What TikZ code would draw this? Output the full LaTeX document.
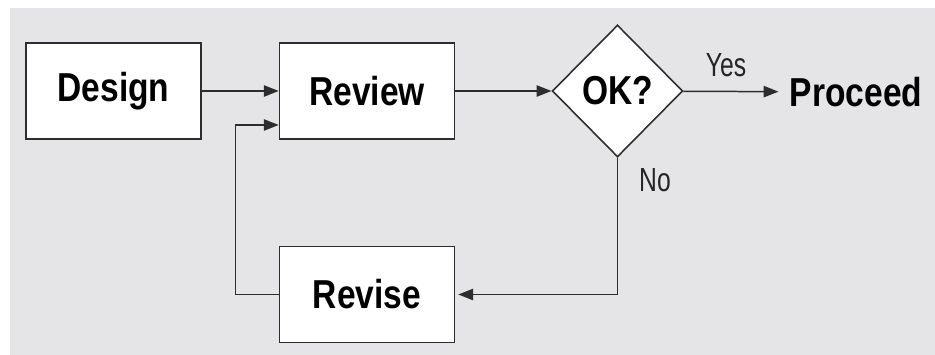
\documentclass[tikz,border=0pt]{standalone}
\usepackage{fontspec}
\setmainfont{Liberation Sans}[FakeStretch=0.83]
\newfontfamily\labelfont{Liberation Sans}[FakeStretch=0.74]
\usetikzlibrary{arrows.meta}
\usetikzlibrary{shapes.geometric}
\definecolor{panelgray}{RGB}{229,229,232}
\definecolor{inkgray}{RGB}{45,45,45}
\tikzset{stepbox/.style={draw=inkgray, line width=0.9pt, fill=white,
  minimum width=3.5cm, minimum height=1.92cm, inner sep=0pt,
  font=\fontsize{23}{26}\selectfont\bfseries}}
\tikzset{decision/.style={draw=inkgray, line width=0.9pt, fill=white, diamond,
  minimum width=2.61cm, minimum height=2.64cm, inner sep=0pt,
  font=\fontsize{23}{26}\selectfont\bfseries}}
\tikzset{flow/.style={draw=inkgray, line width=0.85pt,
  -{Triangle[length=8.5pt, width=6.5pt]}}}
\tikzset{answer/.style={font=\fontsize{19}{22}\selectfont\labelfont, text=inkgray!80!black}}

\begin{document}
\begin{tikzpicture}
      \useasboundingbox (0, 0) rectangle (18.7, 7.1);
      \fill [panelgray] (0.2, 0) rectangle (18.7, 6.94);

      \node [stepbox] (design) at (2.27, 5.28) {Design};
      \node [stepbox] (review) at (7.34, 5.28) {Review};
      \node [decision] (ok) at (12.35, 5.28) {OK?};
      \node [stepbox] (revise) at (7.34, 1.21) {Revise};
      \node [inner sep=0.22cm, font=\fontsize{23}{26}\selectfont\bfseries] (proceed) at (17.12, 5.26) {Proceed};

      \draw [flow] (design) -- (review);
      \draw [flow] (review) -- (ok);
      \draw [flow] (ok) -- (proceed);
      \draw [flow] (ok.south) |- ([xshift=0.06cm]revise.east);
      \draw [flow] (revise.west) -- ++(-0.86, 0) |- ([yshift=-0.68cm]review.west);

      \node [answer] (yes) at (14.52, 5.8) {Yes};
      \node [answer] (no) at (13.1, 3.5) {No};

    \end{tikzpicture}
\end{document}
